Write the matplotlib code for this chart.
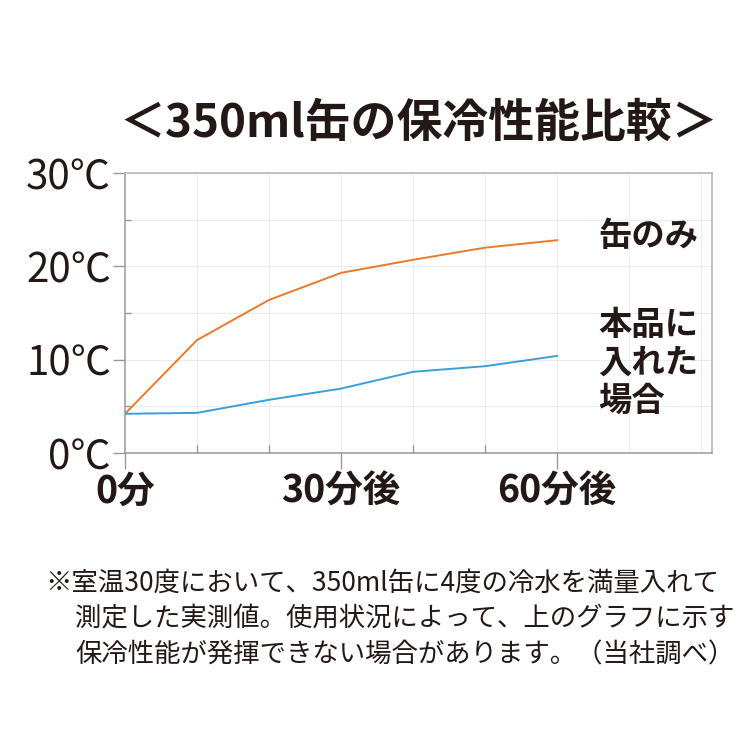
"""
350ml缶の保冷性能比較のグラフ
"""
import matplotlib.pyplot as plt
import numpy as np

plt.rcParams['font.family'] = ['Noto Sans CJK JP', 'DejaVu Sans']

# 経過時間（分）と温度（℃）
minutes = [0, 10, 20, 30, 40, 50, 60]
can_only = [4.2, 12.1, 16.4, 19.3, 20.7, 22.0, 22.8]
in_product = [4.2, 4.3, 5.7, 6.9, 8.7, 9.3, 10.4]

y_ticks = [0, 10, 20, 30]
y_labels = ['0℃', '10℃', '20℃', '30℃']
x_ticks = [0, 30, 60]
x_labels = ['0分', '30分後', '60分後']

title = '＜350ml缶の保冷性能比較＞'
label_can = '缶のみ'
label_product = ['本品に', '入れた', '場合']
note_lines = ['※室温30度において、350ml缶に4度の冷水を満量入れて',
              '測定した実測値。使用状況によって、上のグラフに示す',
              '保冷性能が発揮できない場合があります。（当社調べ）']

W = 740
fig = plt.figure(figsize=(7.4, 7.4), dpi=100)
ax = fig.add_axes([125 / W, 1 - 453 / W, (712 - 125) / W, (453 - 173) / W])

ax.plot(minutes, can_only, color='#e97a2c', lw=1.4, zorder=3)
ax.plot(minutes, in_product, color='#3a9fd8', lw=1.4, zorder=3)

ax.set_xlim(0, 81.5)
ax.set_ylim(0, 30)

# グリッド
for x in np.arange(10, 81, 10):
    ax.axvline(x, color='#ececec', lw=0.8, zorder=1)
for y in np.arange(5, 30, 5):
    ax.axhline(y, color='#ececec', lw=0.8, zorder=1)

ax.set_yticks(y_ticks)
ax.set_yticklabels(y_labels, fontsize=29, color='#231815')
ax.set_yticks([5, 15, 25], minor=True)
ax.set_xticks(x_ticks)
ax.set_xticklabels(x_labels, fontsize=27, fontweight='bold', color='#231815')
ax.set_xticks([10, 20, 40, 50], minor=True)

ax.tick_params(axis='y', which='major', direction='out', length=9,
               width=1, color='#999999', pad=1)
ax.tick_params(axis='y', which='minor', direction='in', length=4.5,
               width=1, color='#999999')
ax.tick_params(axis='x', which='major', direction='out', length=11.5,
               width=1, color='#999999', pad=2)
ax.tick_params(axis='x', which='minor', direction='in', length=6,
               width=1, color='#999999')

for side in ['left', 'bottom']:
    ax.spines[side].set_color('#999999')
    ax.spines[side].set_linewidth(1.1)
for side in ['top', 'right']:
    ax.spines[side].set_color('#bbbbbb')
    ax.spines[side].set_linewidth(1.3)

fig.text(419 / W, 1 - 124 / W, title, fontsize=33, fontweight='bold',
         color='#231815', ha='center', va='center')

fig.text(598 / W, 1 - 236 / W, label_can, fontsize=24, fontweight='bold',
         color='#231815', ha='left', va='center')
for i, line in enumerate(label_product):
    fig.text(598 / W, 1 - (325 + 38 * i) / W, line, fontsize=24,
             fontweight='bold', color='#231815', ha='left', va='center')

fig.text(45 / W, 1 - 583 / W, note_lines[0], fontsize=19,
         color='#231815', ha='left', va='center')
fig.text(75 / W, 1 - 619 / W, note_lines[1], fontsize=19,
         color='#231815', ha='left', va='center')
fig.text(75 / W, 1 - 655 / W, note_lines[2], fontsize=19,
         color='#231815', ha='left', va='center')

fig.savefig('out.png', dpi=100, facecolor='white')
